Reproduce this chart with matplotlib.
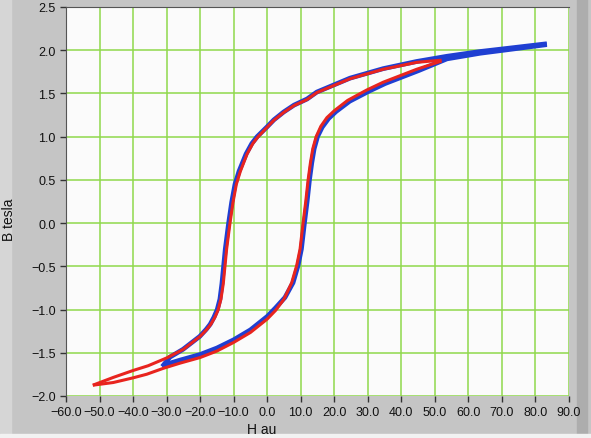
import matplotlib
matplotlib.use("Agg")
import matplotlib.pyplot as plt
from matplotlib.patches import Rectangle
from matplotlib.ticker import FuncFormatter, MultipleLocator

# red loop (smaller excursion), upper branch goes right -> left, lower goes left -> right
red_up_h = [52.0, 44.6, 34.6, 24.7, 14.8, 11.9, 8.0, 4.9, 2.0, 0.0, -2.7, -4.3, -6.0, -8.0, -9.2, -10.2, -11.1,
            -12.1, -12.6, -13.1, -13.8, -14.6, -15.6, -16.8, -18.0, -20.0, -25.0, -30.0, -35.5, -40.0, -45.9, -52.0]
red_up_b = [1.885, 1.86, 1.78, 1.67, 1.51, 1.43, 1.36, 1.28, 1.19, 1.11, 1.00, 0.92, 0.80, 0.60, 0.45, 0.24, 0.0,
            -0.30, -0.50, -0.70, -0.88, -1.00, -1.09, -1.17, -1.23, -1.31, -1.46, -1.56, -1.65, -1.705, -1.785, -1.875]
red_lo_h = [-52.0, -45.9, -40.0, -35.9, -31.0, -26.0, -20.0, -15.0, -10.0, -5.0, 0.0, 2.5, 5.0, 7.3,
            8.8, 9.8, 10.7, 11.5, 12.2, 12.9, 13.6, 14.6, 16.0, 17.8, 20.0, 24.0, 29.7, 34.6, 44.6, 52.0]
red_lo_b = [-1.875, -1.844, -1.79, -1.748, -1.68, -1.62, -1.555, -1.48, -1.38, -1.265, -1.11, -1.01, -0.88, -0.69,
            -0.49, -0.30, 0.0, 0.25, 0.50, 0.70, 0.86, 1.00, 1.12, 1.22, 1.30, 1.42, 1.54, 1.63, 1.78, 1.875]

# blue loop (larger positive excursion)
blue_up_h = [83.4, 73.5, 63.5, 53.6, 44.6, 34.6, 24.7, 14.8, 11.9, 8.0, 4.9, 2.0, 0.0, -3.0, -4.6, -6.3, -8.4,
             -9.6, -10.6, -11.5, -12.5, -13.0, -13.5, -14.1, -14.9, -15.9, -17.0, -18.2, -20.1, -25.1, -29.0, -31.3]
blue_up_b = [2.075, 2.03, 1.985, 1.93, 1.87, 1.787, 1.677, 1.516, 1.436, 1.365, 1.285, 1.195, 1.115, 1.00, 0.92, 0.80, 0.60,
             0.45, 0.24, 0.0, -0.30, -0.50, -0.70, -0.88, -1.00, -1.09, -1.17, -1.23, -1.31, -1.46, -1.55, -1.66]
blue_lo_h = [-31.3, -29.0, -26.0, -20.0, -15.0, -10.0, -5.0, 0.0, 2.5, 5.3, 7.7, 9.2, 10.2, 11.1,
             11.9, 12.6, 13.3, 14.0, 15.0, 16.4, 18.3, 20.5, 24.6, 30.3, 35.2, 45.2, 53.6, 63.5, 73.5, 83.4]
blue_lo_b = [-1.66, -1.62, -1.585, -1.52, -1.445, -1.35, -1.235, -1.08, -0.98, -0.86, -0.69, -0.49, -0.30, 0.0,
             0.25, 0.50, 0.70, 0.86, 1.00, 1.11, 1.21, 1.29, 1.41, 1.525, 1.615, 1.765, 1.90, 1.965, 2.015, 2.065]

plt.rcParams["font.family"] = ["Liberation Sans", "DejaVu Sans"]

W, H = 591, 439
fig = plt.figure(figsize=(W / 100, H / 100), dpi=100)
fig.patch.set_facecolor("#c5c5c5")

# panel frame shading
fig.add_artist(Rectangle((0, 0), 11 / W, 1, transform=fig.transFigure, color="#d6d6d6", zorder=0))
fig.add_artist(Rectangle((577 / W, 0), 10 / W, 1, transform=fig.transFigure, color="#adadad", zorder=0))
fig.add_artist(Rectangle((0, 0), 1, 4 / H, transform=fig.transFigure, color="#f2f2f2", zorder=0))

ax = fig.add_axes([66 / W, 42 / H, 503 / W, 389 / H])
ax.set_facecolor("#fbfbfb")

ax.plot(blue_up_h, blue_up_b, color="#1f3fd2", lw=3.4, solid_capstyle="butt", solid_joinstyle="round", zorder=3)
ax.plot(blue_lo_h, blue_lo_b, color="#1f3fd2", lw=3.4, solid_capstyle="butt", solid_joinstyle="round", zorder=3)
ax.plot(red_up_h, red_up_b, color="#e8241e", lw=2.2, solid_capstyle="butt", solid_joinstyle="round", zorder=4)
ax.plot(red_lo_h, red_lo_b, color="#e8241e", lw=2.2, solid_capstyle="butt", solid_joinstyle="round", zorder=4)

ax.set_xlim(-60, 90)
ax.set_ylim(-2.0, 2.5)
ax.xaxis.set_major_locator(MultipleLocator(10))
ax.yaxis.set_major_locator(MultipleLocator(0.5))
fmt = FuncFormatter(lambda v, p: f"{v:.1f}".replace("-", "\u2212"))
ax.xaxis.set_major_formatter(fmt)
ax.yaxis.set_major_formatter(fmt)

ax.grid(True, color="#8fd94c", lw=1.1, zorder=1)
ax.set_axisbelow(True)

ax.tick_params(direction="out", length=4, width=1, color="#333333", labelsize=9,
               labelcolor="#111111", pad=3.5)

ax.spines["left"].set_color("#555555")
ax.spines["top"].set_color("#555555")
ax.spines["bottom"].set_visible(False)
ax.spines["right"].set_visible(False)

fig.text(262 / W, 1 - 430 / H, "H au", ha="center", va="center", fontsize=10, color="#111111")
fig.text(9 / W, 1 - 220 / H, "B tesla", ha="center", va="center", rotation=90, fontsize=10, color="#111111")

fig.savefig("out.png", dpi=100, facecolor=fig.get_facecolor())
